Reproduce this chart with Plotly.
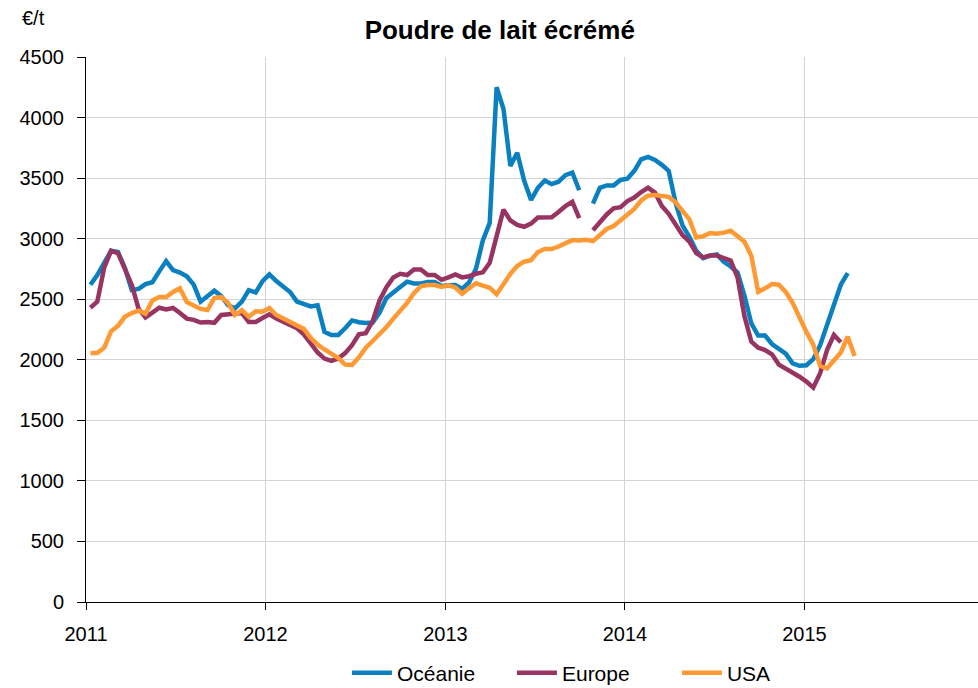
import pandas as pd
import plotly.graph_objects as go

# Biweekly observation dates
dates = pd.date_range("2011-01-10", periods=112, freq="14D")

oceanie = [
    2620, 2700, 2800, 2900, 2890, 2760, 2576, 2585, 2625, 2640,
    2730, 2815, 2740, 2720, 2690, 2620, 2480, 2520, 2570, 2525,
    2450, 2425, 2480, 2575, 2555, 2650, 2705, 2650, 2600, 2560,
    2480, 2460, 2440, 2450, 2230, 2205, 2205, 2260, 2325, 2310,
    2304, 2308, 2390, 2510, 2560, 2600, 2645, 2630, 2630, 2642,
    2642, 2610, 2615, 2617, 2585, 2640, 2750, 2985, 3130, 4250,
    4070, 3600, 3710, 3480, 3320, 3420, 3480, 3450, 3470, 3525,
    3546, 3400, None, 3290, 3420, 3440, 3440, 3485, 3495, 3560,
    3655, 3675, 3650, 3610, 3560, 3295, 3110, 3015, 2900, 2840,
    2860, 2870, 2810, 2770, 2720, 2530, 2300, 2200, 2200, 2130,
    2090, 2050, 1970, 1950, 1955, 2005, 2120, 2280, 2460, 2620,
    2716, None,
]

europe = [
    2430, 2480, 2760, 2900, 2880, 2760, 2620, 2420, 2350, 2390,
    2430, 2415, 2428, 2386, 2340, 2330, 2308, 2312, 2305, 2370,
    2378, 2380, 2386, 2312, 2312, 2345, 2375, 2340, 2310, 2290,
    2260, 2210, 2140, 2060, 2010, 1990, 2010, 2055, 2120, 2210,
    2220, 2320, 2490, 2600, 2680, 2710, 2700, 2745, 2745, 2700,
    2700, 2660, 2680, 2705, 2680, 2690, 2710, 2722, 2800, 3020,
    3240, 3150, 3113, 3098, 3124, 3175, 3180, 3176, 3220, 3270,
    3305, 3170, None, 3070, 3140, 3200, 3250, 3260, 3310, 3340,
    3385, 3420, 3380, 3270, 3205, 3120, 3030, 2975, 2880, 2845,
    2860, 2860, 2842, 2820, 2680, 2360, 2150, 2100, 2080, 2045,
    1960, 1930, 1900, 1860, 1820, 1770, 1890, 2080, 2205, 2145,
    None, None,
]

usa = [
    2056, 2056, 2100, 2235, 2280, 2355, 2386, 2405, 2380, 2490,
    2518, 2518, 2560, 2590, 2477, 2445, 2420, 2411, 2510, 2518,
    2469, 2370, 2410, 2355, 2400, 2396, 2428, 2370, 2340, 2320,
    2285, 2255, 2180, 2125, 2085, 2050, 2015, 1960, 1957, 2020,
    2100, 2155, 2210, 2270, 2340, 2400, 2470, 2550, 2607, 2617,
    2617, 2601, 2615, 2597, 2545, 2590, 2632, 2612, 2595, 2540,
    2625, 2710, 2775, 2810, 2822, 2890, 2915, 2914, 2935, 2964,
    2988, 2985, 2990, 2980, 3035, 3080, 3105, 3150, 3200, 3245,
    3315, 3355, 3360, 3355, 3345, 3300, 3235, 3160, 3010, 3020,
    3047, 3040, 3050, 3065, 3020, 2975, 2860, 2560, 2590, 2625,
    2620, 2560, 2470, 2340, 2230, 2125, 1950, 1930, 1990, 2060,
    2190, 2031,
]

series_names = ["Océanie", "Europe", "USA"]
colors = ["#0A80C0", "#973462", "#FF9933"]

FONT = "Liberation Sans, Arial, sans-serif"

fig = go.Figure()
for name, vals, col in zip(series_names, [oceanie, europe, usa], colors):
    fig.add_trace(go.Scatter(
        x=dates, y=vals, name=name, mode="lines",
        line=dict(color=col, width=4.5),
        connectgaps=False,
    ))

fig.update_layout(
    width=978, height=688,
    margin=dict(l=86, r=0, t=57, b=86, autoexpand=False),
    paper_bgcolor="white", plot_bgcolor="white",
    font=dict(family=FONT, size=20, color="black"),
    title=dict(text="<b>Poudre de lait écrémé</b>", x=0.511, xanchor="center",
               y=1 - 30 / 688, yanchor="middle", font=dict(size=26, family=FONT)),
    showlegend=True,
    legend=dict(orientation="h", x=0.57, xanchor="center",
                yref="container", y=1 - 673 / 688, yanchor="middle",
                font=dict(size=21, family=FONT), itemwidth=40,
                entrywidth=110, entrywidthmode="pixels",
                bgcolor="rgba(0,0,0,0)"),
    annotations=[dict(text="€/t", xref="paper", yref="paper", x=-0.074, y=1.072,
                      xanchor="left", yanchor="middle", showarrow=False,
                      font=dict(size=20, family=FONT))],
)

fig.update_xaxes(
    type="date", range=["2011-01-01", "2015-12-20"],
    dtick="M12", tick0="2011-01-01", tickformat="%Y",
    showgrid=True, gridcolor="#D4D4D4", gridwidth=1,
    showline=True, linecolor="black", linewidth=1,
    ticks="outside", ticklen=7, tickcolor="black",
    ticklabelstandoff=7,
    zeroline=False, tickfont=dict(size=20),
)
fig.update_yaxes(
    range=[0, 4500], dtick=500,
    showgrid=True, gridcolor="#D4D4D4", gridwidth=1,
    showline=True, linecolor="black", linewidth=1,
    ticks="outside", ticklen=8, tickcolor="black",
    ticklabelstandoff=9,
    zeroline=False, tickfont=dict(size=20),
)

fig.write_html("out.html", config={"displayModeBar": False},
               post_script="document.body.style.margin='0';document.body.style.overflow='hidden';")
